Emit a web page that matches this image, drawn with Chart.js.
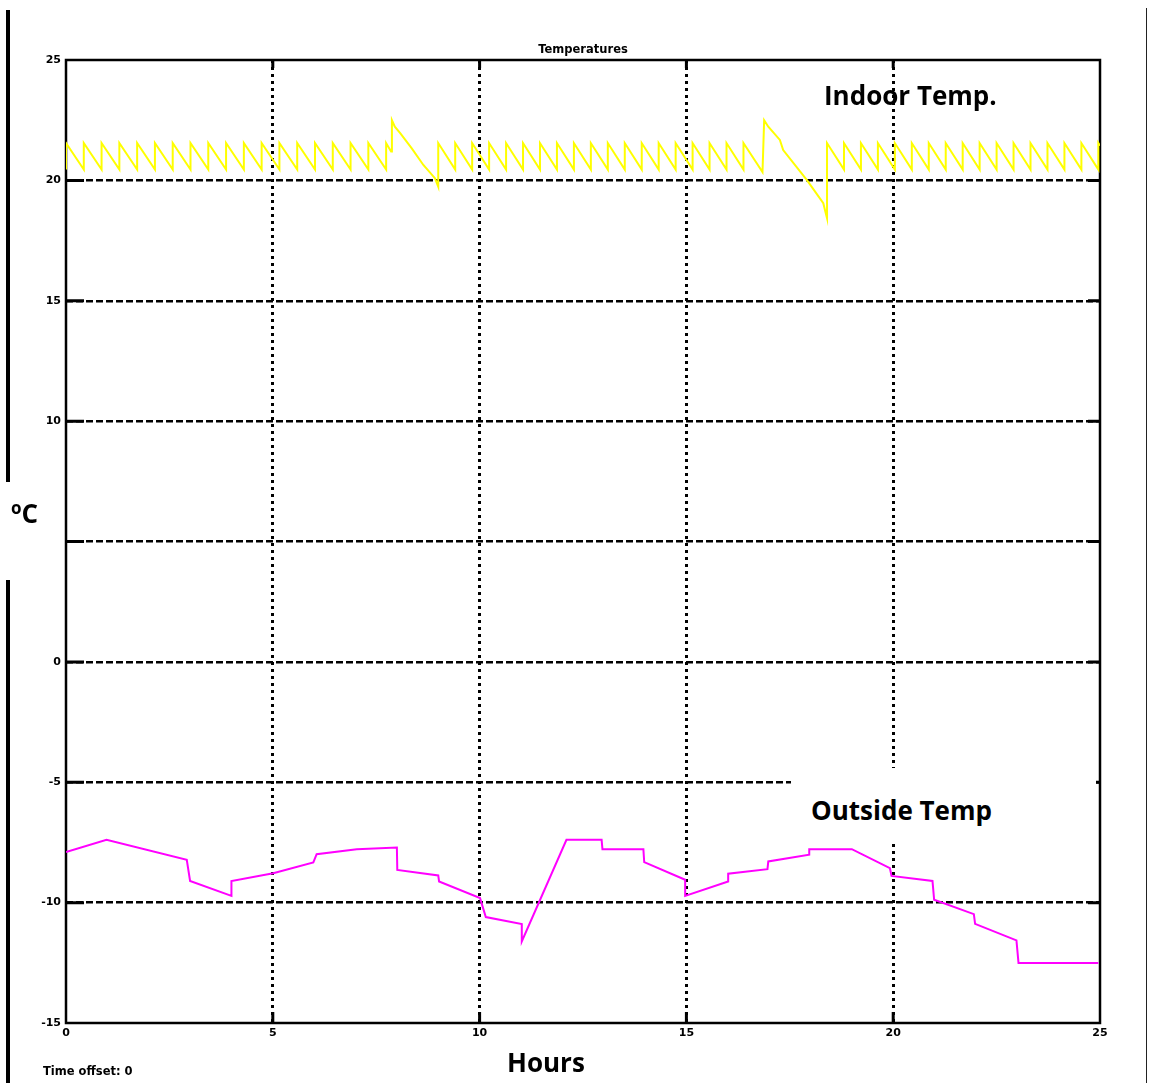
<!DOCTYPE html>
<html>
<head>
<meta charset="utf-8">
<script src="https://cdn.jsdelivr.net/npm/chart.js@4/dist/chart.umd.min.js"></script>
<style>
  html, body { margin: 0; padding: 0; background: #fff; }
  #wrap { position: relative; width: 1149px; height: 1083px; overflow: hidden; background: #fff; }
  canvas { position: absolute; left: 0; top: 0; }
  .lbl { position: absolute; font-family: "Open Sans", "Noto Sans", sans-serif; font-weight: 700; font-size: 26px; line-height: 26px; color: #000; white-space: nowrap; }
  .small { position: absolute; font-family: "DejaVu Sans", sans-serif; font-weight: 700; font-size: 11.5px; line-height: 12px; color: #000; white-space: nowrap; }
  .bar { position: absolute; background: #000; }
</style>
</head>
<body>
<div id="wrap">
  <canvas id="c" width="1149" height="1083"></canvas>
  <div class="bar" style="left:6px;top:10px;width:4px;height:472px;"></div>
  <div class="bar" style="left:6px;top:580px;width:4px;height:503px;"></div>
  <div class="bar" style="left:1146px;top:8px;width:1px;height:1075px;background:#222;"></div>
  <div style="position:absolute;left:791px;top:768px;width:305px;height:74px;background:#fff;"></div>
  <div class="lbl" style="left:824px;top:82px;">Indoor Temp.</div>
  <div class="lbl" style="left:811px;top:797px;">Outside Temp</div>
  <div class="lbl" style="left:507px;top:1049px;">Hours</div>
  <div class="lbl" style="left:11px;top:500px;"><span style="font-size:17px;position:relative;top:-9px;">o</span>C</div>
  <div class="small" style="left:43px;top:1065px;">Time offset: 0</div>
</div>
<script>
// ---- Data ----
const xTickValues = [0, 5, 10, 15, 20, 25];
const xTickLabels = ['0', '5', '10', '15', '20', '25'];
const yTickValues = [25, 20, 15, 10, 5, 0, -5, -10, -15];
const yTickLabels = ['25', '20', '15', '10', '', '0', '-5', '-10', '-15'];

// Indoor temperature (hours, °C) — thermostat sawtooth with two setback events
const indoorHours = [
  0, 0, 0.43, 0.43, 0.86, 0.86, 1.29, 1.29, 1.72, 1.72, 2.15, 2.15, 2.58, 2.58,
  3.01, 3.01, 3.44, 3.44, 3.87, 3.87, 4.3, 4.3, 4.73, 4.73, 5.16, 5.16, 5.59, 5.59,
  6.02, 6.02, 6.45, 6.45, 6.88, 6.88, 7.31, 7.31, 7.74, 7.74,
  7.86, 7.88, 7.95, 8.08, 8.36, 8.64, 8.92, 9.0,
  9.0, 9.41, 9.41, 9.82, 9.82, 10.23, 10.23, 10.64, 10.64, 11.05, 11.05, 11.46, 11.46,
  11.87, 11.87, 12.28, 12.28, 12.69, 12.69, 13.1, 13.1, 13.51, 13.51, 13.92, 13.92,
  14.33, 14.33, 14.74, 14.74, 15.15, 15.15, 15.56, 15.56, 15.97, 15.97, 16.38, 16.38,
  16.84, 16.88, 16.98, 17.26, 17.34, 17.91, 18.31, 18.35, 18.4,
  18.4, 18.81, 18.81, 19.22, 19.22, 19.63, 19.63, 20.04, 20.04, 20.45, 20.45,
  20.86, 20.86, 21.27, 21.27, 21.68, 21.68, 22.09, 22.09, 22.5, 22.5, 22.91, 22.91,
  23.32, 23.32, 23.73, 23.73, 24.14, 24.14, 24.55, 24.55, 24.96, 24.96, 25
];
const indoorTemps = [
  20.45, 21.55, 20.45, 21.55, 20.45, 21.55, 20.45, 21.55, 20.45, 21.55, 20.45, 21.55, 20.45, 21.55,
  20.45, 21.55, 20.45, 21.55, 20.45, 21.55, 20.45, 21.55, 20.45, 21.55, 20.45, 21.55, 20.45, 21.55,
  20.45, 21.55, 20.45, 21.55, 20.45, 21.55, 20.45, 21.55, 20.45, 21.55,
  21.2, 22.5, 22.23, 21.96, 21.33, 20.64, 20.09, 19.74,
  21.55, 20.45, 21.55, 20.45, 21.55, 20.45, 21.55, 20.45, 21.55, 20.45, 21.55, 20.45, 21.55,
  20.45, 21.55, 20.45, 21.55, 20.45, 21.55, 20.45, 21.55, 20.45, 21.55, 20.45, 21.55,
  20.45, 21.55, 20.45, 21.55, 20.45, 21.55, 20.45, 21.55, 20.45, 21.55, 20.45, 21.55,
  20.35, 22.5, 22.23, 21.68, 21.26, 20.02, 19.05, 18.77, 18.43,
  21.55, 20.45, 21.55, 20.45, 21.55, 20.45, 21.55, 20.45, 21.55, 20.45, 21.55,
  20.45, 21.55, 20.45, 21.55, 20.45, 21.55, 20.45, 21.55, 20.45, 21.55, 20.45, 21.55,
  20.45, 21.55, 20.45, 21.55, 20.45, 21.55, 20.45, 21.55, 20.45, 21.55, 21.44
];

// Outside temperature (hours, °C)
const outsideHours = [
  0, 0.98, 2.92, 3.0, 4.0, 4.0, 5.01, 5.98, 6.06, 7.03, 8.0, 8.01, 9.0, 9.02,
  10.01, 10.15, 11.02, 11.02, 12.1, 12.95, 12.97, 13.96, 13.98, 14.97, 14.97,
  16.01, 16.01, 16.96, 16.98, 17.97, 17.97, 19.0, 19.92, 19.96, 20.95, 20.99,
  21.95, 21.98, 22.98, 23.03, 24.96
];
const outsideTemps = [
  -7.9, -7.39, -8.22, -9.1, -9.72, -9.1, -8.78, -8.33, -7.99, -7.78, -7.71, -8.64, -8.87, -9.12,
  -9.81, -10.6, -10.89, -11.61, -7.39, -7.39, -7.78, -7.78, -8.32, -9.05, -9.72,
  -9.12, -8.8, -8.61, -8.29, -8.01, -7.78, -7.78, -8.57, -8.89, -9.1, -9.88,
  -10.48, -10.88, -11.57, -12.51, -12.51
];

// ---- Chart ----
const toPts = (xs, ys) => xs.map((h, i) => ({ x: h, y: ys[i] }));
const tickFont = { family: 'DejaVu Sans', size: 11, weight: 'bold' };

const framePlugin = {
  id: 'frame',
  beforeDatasetsDraw(chart) {
    const { ctx, chartArea: a, scales: { x, y } } = chart;
    ctx.save();
    ctx.strokeStyle = '#000';
    ctx.lineWidth = 3;
    ctx.setLineDash([]);
    ctx.beginPath();
    xTickValues.forEach(v => {
      if (v <= x.min || v >= x.max) return;
      const px = x.getPixelForValue(v);
      ctx.moveTo(px, a.bottom); ctx.lineTo(px, a.bottom - 11);
      ctx.moveTo(px, a.top); ctx.lineTo(px, a.top + 8);
    });
    yTickValues.forEach(v => {
      if (v <= y.min || v >= y.max) return;
      const py = y.getPixelForValue(v);
      ctx.moveTo(a.left, py); ctx.lineTo(a.left + 18, py);
      ctx.moveTo(a.right, py); ctx.lineTo(a.right - 12, py);
    });
    ctx.stroke();
    ctx.lineWidth = 2.5;
    ctx.strokeRect(a.left, a.top, a.right - a.left, a.bottom - a.top);
    ctx.restore();
  }
};

new Chart(document.getElementById('c'), {
  type: 'line',
  data: {
    datasets: [
      { label: 'Indoor Temp.', data: toPts(indoorHours, indoorTemps), borderColor: '#ffff00',
        borderWidth: 2, pointRadius: 0, tension: 0, fill: false },
      { label: 'Outside Temp', data: toPts(outsideHours, outsideTemps), borderColor: '#ff00ff',
        borderWidth: 2, pointRadius: 0, tension: 0, fill: false }
    ]
  },
  options: {
    responsive: false,
    animation: false,
    layout: { padding: { left: 0, right: 49, top: 0, bottom: 0 } },
    plugins: {
      legend: { display: false },
      tooltip: { enabled: false },
      title: { display: true, text: 'Temperatures', color: '#000', fullSize: false,
        font: { family: 'DejaVu Sans', size: 11.5, weight: 'bold', lineHeight: 1.2 },
        padding: { top: 43, bottom: 3.2 } }
    },
    scales: {
      x: {
        type: 'linear', min: 0, max: 25,
        afterBuildTicks: s => { s.ticks = xTickValues.map(v => ({ value: v })); },
        afterFit: s => { s.height = 60; },
        ticks: { color: '#000', font: tickFont, padding: 4, maxRotation: 0,
          callback: v => xTickLabels[xTickValues.indexOf(v)] },
        grid: { drawTicks: false, lineWidth: 3,
          color: c => (c.tick && (c.tick.value === 0 || c.tick.value === 25)) ? 'rgba(0,0,0,0)' : '#000' },
        border: { display: false, dash: [3, 4] }
      },
      y: {
        type: 'linear', min: -15, max: 25,
        afterBuildTicks: s => { s.ticks = yTickValues.map(v => ({ value: v })); },
        afterFit: s => { s.width = 66; },
        ticks: { color: '#000', font: tickFont, padding: 5,
          callback: v => yTickLabels[yTickValues.indexOf(v)] },
        grid: { drawTicks: false, lineWidth: 2.5,
          color: c => (c.tick && (c.tick.value === 25 || c.tick.value === -15)) ? 'rgba(0,0,0,0)' : '#000' },
        border: { display: false, dash: [7, 3] }
      }
    }
  },
  plugins: [framePlugin]
});
</script>
</body>
</html>
